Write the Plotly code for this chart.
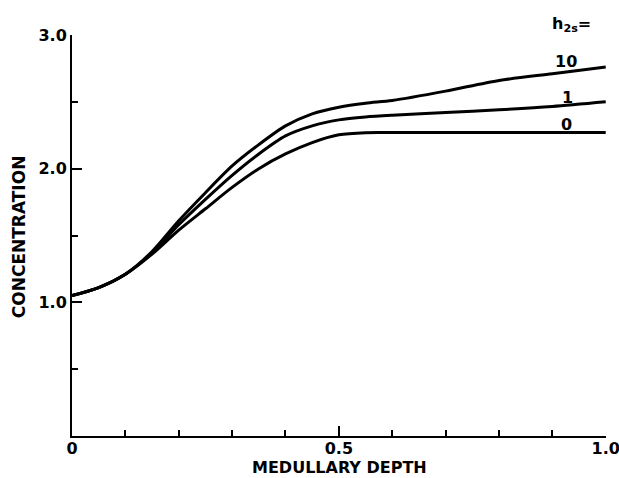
import plotly.graph_objects as go

depth = [0, 0.05, 0.1, 0.15, 0.2, 0.25, 0.3, 0.35, 0.4, 0.45, 0.5, 0.55, 0.6, 0.7, 0.8, 0.9, 1.0]
conc_h10 = [1.05, 1.11, 1.21, 1.38, 1.61, 1.82, 2.02, 2.18, 2.32, 2.41, 2.46, 2.49, 2.51, 2.58, 2.66, 2.71, 2.76]
conc_h1 = [1.05, 1.11, 1.21, 1.37, 1.58, 1.77, 1.95, 2.11, 2.245, 2.32, 2.365, 2.387, 2.40, 2.42, 2.44, 2.465, 2.50]
conc_h0 = [1.05, 1.11, 1.21, 1.36, 1.54, 1.70, 1.86, 2.00, 2.11, 2.195, 2.253, 2.269, 2.27, 2.27, 2.27, 2.27, 2.27]
series_labels = ["10", "1", "0"]
label_x = [0.925, 0.929, 0.927]
label_y = [2.80, 2.53, 2.33]

x_tickvals = [0, 0.5, 1.0]
x_ticktext = ["0", "0.5", "1.0"]
y_tickvals = [1, 2, 3]
y_ticktext = ["1.0", "2.0", "3.0"]

FONT = "DejaVu Sans"

fig = go.Figure()
for ys in (conc_h10, conc_h1, conc_h0):
    fig.add_trace(go.Scatter(x=depth, y=ys, mode="lines",
                             line=dict(color="black", width=3, shape="spline", smoothing=0.8),
                             hoverinfo="skip", showlegend=False, cliponaxis=False))

for t, lx, ly in zip(series_labels, label_x, label_y):
    fig.add_annotation(x=lx, y=ly, text="<b>" + t + "</b>", showarrow=False,
                       font=dict(family=FONT, size=16, color="black"))

fig.add_annotation(x=0.935, xref="x", y=1.027, yref="paper", yanchor="middle",
                   text="<b>h<sub>2s</sub>=</b>",
                   showarrow=False, font=dict(family=FONT, size=16, color="black"))

# axis titles
fig.add_annotation(x=0.5, xref="paper", y=-0.1035, yref="paper", yanchor="bottom",
                   text="<b>MEDULLARY DEPTH</b>", showarrow=False, borderpad=0,
                   font=dict(family=FONT, size=16, color="black"))
fig.add_annotation(x=-0.099, xref="paper", y=0.496, yref="paper", xanchor="center", yanchor="middle",
                   text="<b>CONCENTRATION</b>", textangle=-90, showarrow=False,
                   font=dict(family=FONT, size=17, color="black"))

fig.update_layout(
    width=619, height=478,
    margin=dict(l=72, r=13, t=35, b=42),
    paper_bgcolor="white", plot_bgcolor="white",
    font=dict(family=FONT, color="black"),
    xaxis=dict(range=[0, 1.0005], showgrid=False, zeroline=False, automargin=False,
               showline=True, linecolor="black", linewidth=2,
               ticks="inside", ticklen=10, tickwidth=2, tickcolor="black",
               tickvals=x_tickvals, ticktext=x_ticktext, ticklabeloverflow="allow",
               ticklabelstandoff=-3,
               tickfont=dict(family=FONT, size=16, weight="bold"),
               minor=dict(dtick=0.1, tick0=0, ticks="inside", ticklen=6, tickwidth=2, tickcolor="black")),
    yaxis=dict(range=[0, 3.0], showgrid=False, zeroline=False, automargin=False,
               showline=True, linecolor="black", linewidth=2,
               ticks="inside", ticklen=10, tickwidth=2, tickcolor="black",
               tickvals=y_tickvals, ticktext=y_ticktext,
               tickfont=dict(family=FONT, size=16, weight="bold"),
               minor=dict(dtick=0.5, tick0=0, ticks="inside", ticklen=6, tickwidth=2, tickcolor="black")),
)

fig.write_html("out.html", config={"displayModeBar": False},
               post_script="document.body.style.margin='0';")
